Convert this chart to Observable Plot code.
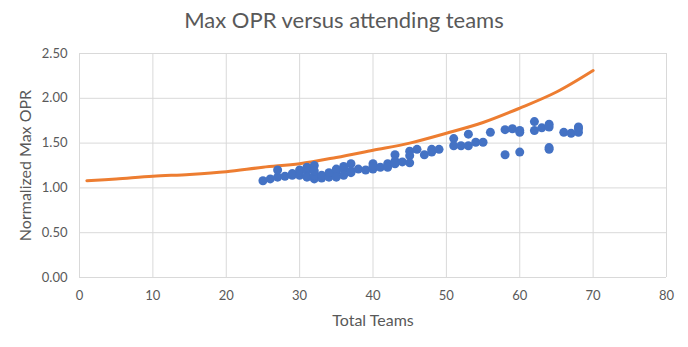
<!DOCTYPE html>
<html>
<head>
<meta charset="utf-8">
<script src="https://cdn.jsdelivr.net/npm/d3@7"></script>
<script src="https://cdn.jsdelivr.net/npm/@observablehq/plot@0.6"></script>
<style>
  html, body { margin: 0; padding: 0; background: #fff; }
  #wrap { width: 688px; height: 347px; overflow: hidden; font-family: Lato, "Open Sans", sans-serif; }
  #title { height: 40px; line-height: 40px; text-align: center; font-size: 22px; color: #595959; }
  svg { display: block; overflow: visible; }
</style>
</head>
<body>
<div id="wrap">
  <div id="title">Max OPR versus attending teams</div>
  <div id="chart"></div>
</div>
<script>
// Scatter: observed max OPR (normalized) by total teams
const teams = [25,26,27,27,28,29,29,30,30,30,31,31,31,32,32,32,32,33,33,34,34,35,35,35,36,36,36,37,37,37,38,39,40,40,40,41,42,42,43,43,43,44,45,45,45,46,47,48,48,49,51,51,52,53,53,54,55,56,58,58,59,60,60,60,62,62,63,64,64,64,64,66,67,68,68,68];
const maxOPR = [1.08,1.10,1.12,1.20,1.13,1.14,1.16,1.14,1.18,1.20,1.19,1.23,1.12,1.10,1.25,1.14,1.19,1.11,1.14,1.12,1.17,1.18,1.21,1.12,1.24,1.21,1.14,1.27,1.17,1.19,1.21,1.20,1.21,1.27,1.24,1.23,1.27,1.23,1.37,1.30,1.27,1.29,1.41,1.36,1.28,1.43,1.37,1.40,1.43,1.43,1.55,1.47,1.47,1.60,1.47,1.51,1.51,1.62,1.65,1.37,1.66,1.62,1.64,1.40,1.74,1.64,1.67,1.71,1.68,1.45,1.43,1.62,1.61,1.66,1.62,1.68];

// Orange curve (expected max)
const curveTeams = [1,5,10,15,20,25,30,35,40,45,50,55,60,65,70];
const curveOPR   = [1.08,1.10,1.13,1.15,1.18,1.23,1.27,1.34,1.42,1.50,1.61,1.73,1.89,2.07,2.31];

const xTicks = [0,10,20,30,40,50,60,70,80];
const yTicks = [0,0.5,1,1.5,2,2.5];
const xTitle = "Total Teams";
const yTitle = "Normalized Max OPR";

const points = teams.map((t, i) => ({x: t, y: maxOPR[i]}));
const curve = curveTeams.map((t, i) => ({x: t, y: curveOPR[i]}));

const grey = "#595959";
const chart = Plot.plot({
  width: 688, height: 307,
  marginLeft: 79, marginRight: 22, marginTop: 13, marginBottom: 70,
  style: {fontFamily: "Lato, 'Open Sans', sans-serif", fontSize: "13px", color: grey, background: "#fff", overflow: "visible"},
  x: {domain: [0, 80]},
  y: {domain: [0, 2.5]},
  marks: [
    Plot.gridX(xTicks, {stroke: "#d9d9d9", strokeOpacity: 1}),
    Plot.gridY(yTicks, {stroke: "#d9d9d9", strokeOpacity: 1}),
    Plot.axisX(xTicks, {tickSize: 0, tickPadding: 13, fill: grey, fontSize: 13, label: null}),
    Plot.axisY(yTicks, {tickSize: 0, tickPadding: 12, fill: grey, fontSize: 13, label: null, tickFormat: d => d.toFixed(2)}),
    Plot.line(curve, {x: "x", y: "y", stroke: "#ED7D31", strokeWidth: 3, curve: "catmull-rom"}),
    Plot.dot(points, {x: "x", y: "y", r: 4.5, fill: "#4472C4", stroke: "none"}),
    Plot.text([xTitle], {frameAnchor: "bottom", dy: 48, fill: grey, fontSize: 16, textAnchor: "middle"}),
    Plot.text([yTitle], {frameAnchor: "left", dx: -54, rotate: -90, fill: grey, fontSize: 16, textAnchor: "middle"})
  ]
});
document.getElementById("chart").appendChild(chart);
</script>
</body>
</html>
